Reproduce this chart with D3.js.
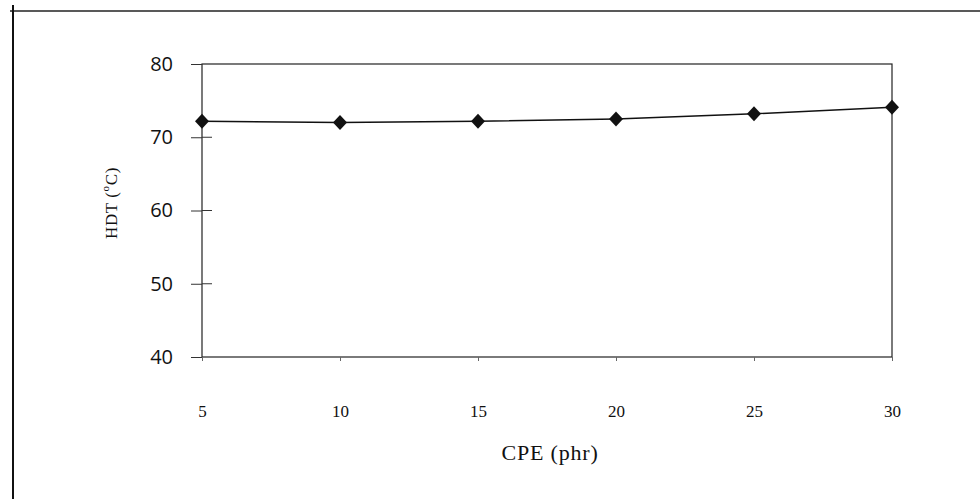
<!DOCTYPE html>
<html>
<head>
<meta charset="utf-8">
<script src="https://cdn.jsdelivr.net/npm/d3@7"></script>
<style>
  body { margin: 0; background: #fff; }
  svg { display: block; }
</style>
</head>
<body>
<div id="chart"></div>
<script>
// data
const cpe = [5, 10, 15, 20, 25, 30];
const hdt = [72.2, 72.0, 72.2, 72.5, 73.2, 74.1];
const yTicks = [40, 50, 60, 70, 80];

const width = 980, height = 499;
const margin = { left: 202, right: 88, top: 64, bottom: 142 };

const svg = d3.select('#chart').append('svg')
  .attr('width', width)
  .attr('height', height);

// outer frame (scanned page border)
svg.append('line')
  .attr('x1', 10).attr('x2', 980).attr('y1', 11).attr('y2', 11)
  .attr('stroke', '#222').attr('stroke-width', 1.5);
svg.append('line')
  .attr('x1', 13).attr('x2', 13).attr('y1', 5).attr('y2', 499)
  .attr('stroke', '#111').attr('stroke-width', 2);

const x = d3.scaleLinear()
  .domain([5, 30])
  .range([margin.left, width - margin.right]);

const y = d3.scaleLinear()
  .domain([40, 80])
  .range([height - margin.bottom, margin.top]);

// plot box
svg.append('rect')
  .attr('x', x(5)).attr('y', y(80))
  .attr('width', x(30) - x(5)).attr('height', y(40) - y(80))
  .attr('fill', 'none')
  .attr('stroke', '#222')
  .attr('stroke-width', 1.2);

// y axis
const yAxis = svg.append('g')
  .attr('transform', `translate(${x(5)},0)`)
  .call(d3.axisLeft(y).tickValues(yTicks).tickSize(11).tickPadding(18));
yAxis.select('.domain').remove();
yAxis.selectAll('line').attr('stroke', '#333');
yAxis.selectAll('text')
  .attr('font-family', '"Open Sans", "DejaVu Sans", sans-serif')
  .attr('font-size', 20)
  .attr('fill', '#111');

// inner halves of the middle ticks
svg.append('g').selectAll('line')
  .data(yTicks.filter(d => d > 40 && d < 80))
  .join('line')
  .attr('x1', x(5)).attr('x2', x(5) + 10)
  .attr('y1', d => y(d)).attr('y2', d => y(d))
  .attr('stroke', '#333');

// x axis
const xAxis = svg.append('g')
  .attr('transform', `translate(0,${y(40)})`)
  .call(d3.axisBottom(x).tickValues(cpe).tickSize(4).tickPadding(44));
xAxis.select('.domain').remove();
xAxis.selectAll('line').attr('stroke', '#666');
xAxis.selectAll('text')
  .attr('font-family', '"Liberation Serif", "Times New Roman", serif')
  .attr('font-size', 17)
  .attr('fill', '#111');

const pts = cpe.map((c, i) => [c, hdt[i]]);

// series line
svg.append('path')
  .datum(pts)
  .attr('fill', 'none')
  .attr('stroke', '#111')
  .attr('stroke-width', 1.5)
  .attr('d', d3.line().x(d => x(d[0])).y(d => y(d[1])));

// diamond markers
svg.append('g').selectAll('path')
  .data(pts)
  .join('path')
  .attr('transform', d => `translate(${x(d[0])},${y(d[1])})`)
  .attr('d', 'M0,-7.5L7,0L0,7.5L-7,0Z')
  .attr('fill', '#111');

// axis titles
svg.append('text')
  .attr('transform', `translate(117,203) rotate(-90)`)
  .attr('text-anchor', 'middle')
  .attr('font-family', '"Liberation Serif", "Times New Roman", serif')
  .attr('font-size', 17)
  .attr('letter-spacing', 0.6)
  .attr('fill', '#111')
  .html('HDT (<tspan dy="-8" font-size="11">o</tspan><tspan dy="8">C)</tspan>');

svg.append('text')
  .attr('x', 550).attr('y', 460)
  .attr('text-anchor', 'middle')
  .attr('font-family', '"Liberation Serif", "Times New Roman", serif')
  .attr('font-size', 22)
  .attr('letter-spacing', 0.8)
  .attr('fill', '#111')
  .text('CPE (phr)');
</script>
</body>
</html>
